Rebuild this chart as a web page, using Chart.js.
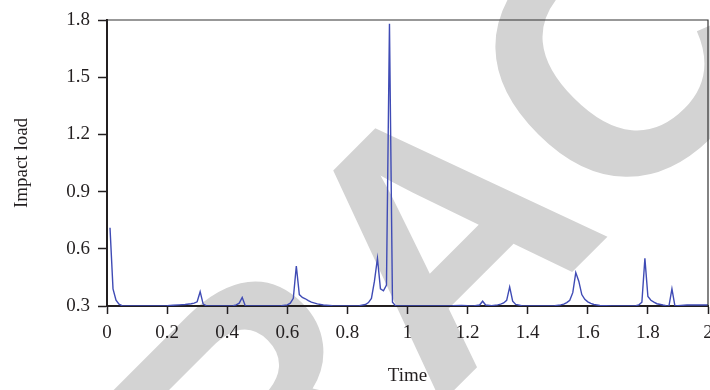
<!DOCTYPE html>
<html>
<head>
<meta charset="utf-8">
<script src="https://cdn.jsdelivr.net/npm/chart.js@4/dist/chart.umd.min.js"></script>
<style>
  html, body { margin: 0; padding: 0; background: #fff; }
  #wrap { width: 710px; height: 390px; }
</style>
</head>
<body>
<div id="wrap"><canvas id="impactChart" width="710" height="390"></canvas></div>
<script>
// sample times (s) and the impact load
var times = [
  0.01, 0.02, 0.03, 0.04, 0.05, 0.06, 0.08, 0.10, 0.15, 0.20,
  0.22, 0.24, 0.26, 0.28, 0.29, 0.30, 0.31, 0.32, 0.33, 0.36,
  0.40, 0.42, 0.43, 0.44, 0.45, 0.46, 0.50, 0.55, 0.58, 0.60,
  0.61, 0.62, 0.63, 0.64, 0.65, 0.66, 0.67, 0.68, 0.70, 0.72,
  0.75, 0.80, 0.84, 0.86, 0.87, 0.88, 0.89, 0.90, 0.91, 0.92,
  0.93, 0.94, 0.95, 0.96, 1.00, 1.05, 1.10, 1.15, 1.18, 1.20,
  1.22, 1.24, 1.25, 1.26, 1.28, 1.30, 1.31, 1.32, 1.33, 1.34,
  1.35, 1.36, 1.38, 1.42, 1.46, 1.49, 1.51, 1.52, 1.53, 1.54,
  1.55, 1.56, 1.57, 1.58, 1.59, 1.60, 1.61, 1.62, 1.64, 1.68,
  1.72, 1.76, 1.77, 1.78, 1.79, 1.80, 1.81, 1.82, 1.83, 1.85,
  1.86, 1.87, 1.88, 1.89, 1.90, 1.93, 1.96, 2.00
];
var loads = [
  0.71, 0.39, 0.33, 0.31, 0.302, 0.30, 0.30, 0.30, 0.30, 0.302,
  0.304, 0.306, 0.308, 0.312, 0.315, 0.322, 0.375, 0.31, 0.302, 0.30,
  0.30, 0.302, 0.306, 0.315, 0.345, 0.302, 0.30, 0.30, 0.302, 0.306,
  0.315, 0.34, 0.51, 0.36, 0.345, 0.338, 0.328, 0.32, 0.311, 0.305,
  0.302, 0.30, 0.302, 0.308, 0.318, 0.34, 0.43, 0.55, 0.39, 0.38,
  0.41, 1.78, 0.32, 0.302, 0.30, 0.30, 0.30, 0.301, 0.303, 0.301,
  0.30, 0.305, 0.325, 0.305, 0.302, 0.306, 0.31, 0.316, 0.33, 0.40,
  0.325, 0.308, 0.302, 0.30, 0.30, 0.302, 0.306, 0.31, 0.318, 0.33,
  0.37, 0.475, 0.43, 0.36, 0.335, 0.322, 0.314, 0.308, 0.303, 0.30,
  0.30, 0.302, 0.306, 0.32, 0.55, 0.35, 0.33, 0.32, 0.312, 0.305,
  0.302, 0.30, 0.39, 0.30, 0.302, 0.305, 0.306, 0.305
];
var xTicks = [0, 0.2, 0.4, 0.6, 0.8, 1, 1.2, 1.4, 1.6, 1.8, 2];
var yTicks = [0.3, 0.6, 0.9, 1.2, 1.5, 1.8];

var serif = '"Liberation Serif", "DejaVu Serif", serif';
var ink = '#231f20';

var points = times.map(function (t, i) { return { x: t, y: loads[i] }; });

function fmt(v) { return String(Number(v.toFixed(1))); }

// grey RETRACTED stamp behind the plot
var stamp = {
  id: 'stamp',
  beforeDraw: function (chart) {
    var ctx = chart.ctx;
    ctx.save();
    ctx.fillStyle = '#fff';
    ctx.fillRect(0, 0, chart.width, chart.height);
    var size = 350;
    ctx.font = 'bold ' + size + 'px "Liberation Sans", Arial, sans-serif';
    var pre = ctx.measureText('RETR').width;
    var a = ctx.measureText('A').width;
    ctx.translate(436, 231);
    ctx.rotate(-45 * Math.PI / 180);
    ctx.fillStyle = '#d3d3d3';
    ctx.textBaseline = 'alphabetic';
    ctx.fillText('RETRACTED', -(pre + a / 2), size * 0.716 / 2);
    ctx.restore();
  }
};

// thin frame on top and right
var frame = {
  id: 'frame',
  afterDraw: function (chart) {
    var ctx = chart.ctx, a = chart.chartArea;
    ctx.save();
    ctx.strokeStyle = '#333';
    ctx.lineWidth = 1.2;
    ctx.beginPath();
    ctx.moveTo(a.left, a.top);
    ctx.lineTo(a.right, a.top);
    ctx.lineTo(a.right, a.bottom);
    ctx.stroke();
    ctx.restore();
  }
};

var ctx = document.getElementById('impactChart').getContext('2d');
var chart = new Chart(ctx, {
    type: 'line',
    data: {
        datasets: [{
            data: points,
            borderColor: '#3f4bb5',
            borderWidth: 1.4,
            pointRadius: 0,
            tension: 0,
            fill: false
        }]
    },
    options: {
        responsive: false,
        devicePixelRatio: 1,
        animation: false,
        layout: { padding: { left: 0, right: 2, top: 20, bottom: 0 } },
        plugins: { legend: { display: false }, tooltip: { enabled: false } },
        scales: {
            x: {
                type: 'linear',
                min: 0,
                max: 2,
                afterBuildTicks: function (s) { s.ticks = xTicks.map(function (v) { return { value: v }; }); },
                afterFit: function (s) { s.height = 84; s.paddingRight = 0; s.paddingLeft = 0; },
                ticks: {
                    callback: fmt,
                    color: ink,
                    font: { family: serif, size: 19 },
                    padding: 8,
                    maxRotation: 0,
                    autoSkip: false
                },
                grid: { drawOnChartArea: false, drawTicks: true, tickLength: 8, tickColor: ink, tickWidth: 1.5 },
                border: { display: true, color: ink, width: 2 },
                title: {
                    display: true,
                    text: 'Time',
                    color: ink,
                    font: { family: serif, size: 19 },
                    padding: { top: 0, bottom: 3 }
                }
            },
            y: {
                type: 'linear',
                min: 0.3,
                max: 1.8,
                afterBuildTicks: function (s) { s.ticks = yTicks.map(function (v) { return { value: v }; }); },
                afterFit: function (s) { s.width = 107; },
                ticks: {
                    callback: fmt,
                    color: ink,
                    font: { family: serif, size: 19 },
                    padding: 8,
                    autoSkip: false
                },
                grid: { drawOnChartArea: false, drawTicks: true, tickLength: 9, tickColor: ink, tickWidth: 1.5 },
                border: { display: true, color: ink, width: 2 },
                title: {
                    display: true,
                    text: 'Impact load',
                    color: ink,
                    font: { family: serif, size: 19 },
                    padding: { top: 11, bottom: 0 }
                }
            }
        }
    },
    plugins: [stamp, frame]
});
</script>
</body>
</html>
